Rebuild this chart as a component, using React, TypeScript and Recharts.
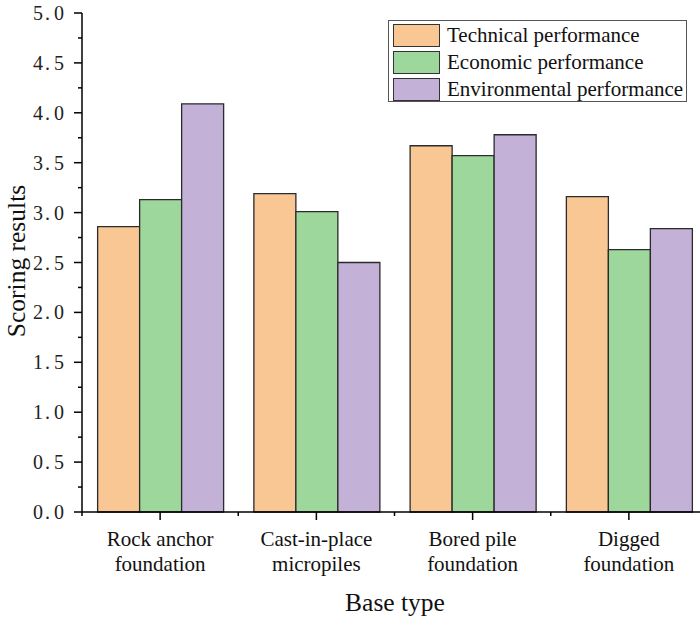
import { BarChart, Bar, XAxis, YAxis, Legend } from 'recharts'

const CATEGORIES = ['Rock anchor\nfoundation', 'Cast-in-place\nmicropiles', 'Bored pile\nfoundation', 'Digged\nfoundation']
const TECHNICAL = [2.86, 3.19, 3.67, 3.16]
const ECONOMIC = [3.13, 3.01, 3.57, 2.63]
const ENVIRONMENTAL = [4.09, 2.5, 3.78, 2.84]
const Y_TICKS = [0, 0.25, 0.5, 0.75, 1, 1.25, 1.5, 1.75, 2, 2.25, 2.5, 2.75, 3, 3.25, 3.5, 3.75, 4, 4.25, 4.5, 4.75, 5]

const FONT = '"Liberation Serif", "Times New Roman", serif'

const SERIES = [
  { key: 'technical', name: 'Technical performance', color: '#f9c794' },
  { key: 'economic', name: 'Economic performance', color: '#9ed79b' },
  { key: 'environmental', name: 'Environmental performance', color: '#c3b1d8' },
]

const data = CATEGORIES.map((name, i) => ({
  name,
  technical: TECHNICAL[i],
  economic: ECONOMIC[i],
  environmental: ENVIRONMENTAL[i],
}))

function YTick(props: any) {
  const { x, y, payload } = props
  const v = payload.value as number
  const major = Math.abs(v * 2 - Math.round(v * 2)) < 1e-6
  const [a, b] = v.toFixed(1).split('.')
  return (
    <g>
      <line x1={x - (major ? 8 : 4)} x2={x} y1={y} y2={y} stroke="#000" strokeWidth={1.5} />
      {major && (
        <text x={x - 49} y={y} dy={7} textAnchor="start" fontFamily={FONT} fontSize={20} fill="#222">
          {a}
          <tspan dx={2}>.</tspan>
          <tspan dx={4}>{b}</tspan>
        </text>
      )}
    </g>
  )
}

function XTick(props: any) {
  const { x, y, payload, index } = props
  const half = payload.offset || 78
  const lines = String(payload.value).split('\n')
  return (
    <g>
      <line x1={x} x2={x} y1={y} y2={y + 8} stroke="#000" strokeWidth={1.5} />
      <line x1={x - half} x2={x - half} y1={y} y2={y + 4} stroke="#000" strokeWidth={1.5} />
      {index === CATEGORIES.length - 1 && (
        <line x1={x + half} x2={x + half} y1={y} y2={y + 4} stroke="#000" strokeWidth={1.5} />
      )}
      <text x={x} y={y + 34} textAnchor="middle" fontFamily={FONT} fontSize={21} fill="#111">
        {lines.map((l, i) => (
          <tspan key={i} x={x} dy={i === 0 ? 0 : 25}>
            {l}
          </tspan>
        ))}
      </text>
    </g>
  )
}

function LegendBox() {
  return (
    <div
      style={{
        width: 297,
        height: 80,
        border: '1px solid #555',
        background: '#fff',
        fontFamily: FONT,
        fontSize: 21,
        color: '#111',
        boxSizing: 'content-box',
      }}
    >
      {SERIES.map((s, i) => (
        <div key={s.key} style={{ display: 'flex', alignItems: 'center', height: 27, marginTop: i === 0 ? 1 : 0 }}>
          <div
            style={{
              width: 45,
              height: 21,
              marginLeft: 4,
              marginRight: 7,
              background: s.color,
              border: '1px solid #333',
              flexShrink: 0,
            }}
          />
          <span style={{ lineHeight: '27px', whiteSpace: 'nowrap' }}>{s.name}</span>
        </div>
      ))}
    </div>
  )
}

export default function App() {
  return (
    <div style={{ position: 'absolute', left: 0, top: 0, width: 700, height: 619, overflow: 'hidden', background: '#fff' }}>
      <BarChart
        width={720}
        height={619}
        data={data}
        margin={{ top: 13, right: 13, left: 0, bottom: 0 }}
        barCategoryGap="10%"
        barGap={0}
      >
        <XAxis
          dataKey="name"
          height={107}
          interval={0}
          tickSize={0}
          tickMargin={0}
          tickLine={false}
          axisLine={{ stroke: '#000', strokeWidth: 1.5 }}
          tick={<XTick />}
          label={{
            content: () => (
              <text x={395} y={611} textAnchor="middle" fontFamily={FONT} fontSize={25.5} fill="#111">
                Base type
              </text>
            ),
          }}
        />
        <YAxis
          type="number"
          domain={[0, 5]}
          ticks={Y_TICKS}
          interval={0}
          width={82}
          tickSize={0}
          tickMargin={0}
          tickLine={false}
          axisLine={{ stroke: '#000', strokeWidth: 1.5 }}
          tick={<YTick />}
          label={{
            content: () => (
              <text
                x={25}
                y={261}
                textAnchor="middle"
                fontFamily={FONT}
                fontSize={25.5}
                fill="#111"
                transform="rotate(-90, 25, 261)"
              >
                Scoring results
              </text>
            ),
          }}
        />
        <Legend
          layout="horizontal"
          verticalAlign="middle"
          align="center"
          content={<LegendBox />}
          wrapperStyle={{ top: 20, left: 388, width: 299, height: 82 }}
        />
        {SERIES.map((s) => (
          <Bar
            key={s.key}
            dataKey={s.key}
            name={s.name}
            fill={s.color}
            stroke="#2b2b2b"
            strokeWidth={1.3}
            isAnimationActive={false}
          />
        ))}
      </BarChart>
    </div>
  )
}
